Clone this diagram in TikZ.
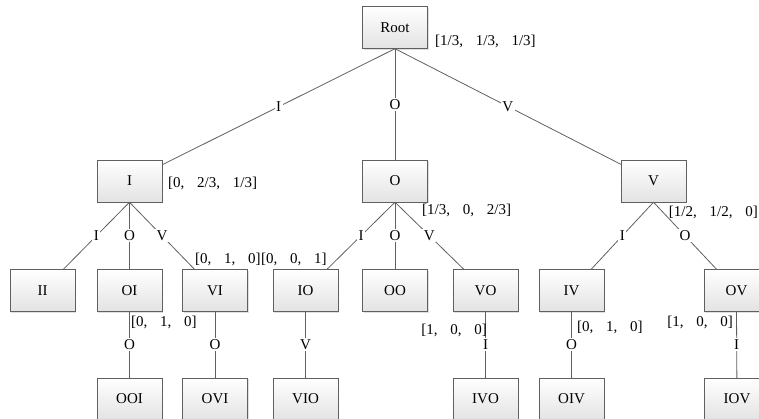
\documentclass[tikz,border=0pt]{standalone}
\usepackage{fontspec}
\setmainfont{Liberation Serif}
\usetikzlibrary{shadows}
\newcommand\fwc{,\hspace{0.85em}}
\begin{document}
\begin{tikzpicture}[x=1pt,y=-1pt,
  box/.style={draw=gray!75!black, top color=white, bottom color=gray!22, minimum width=65pt, minimum height=42pt, inner sep=0pt, font=\fontsize{15}{17}\selectfont, drop shadow={opacity=0.25, shadow xshift=1.2pt, shadow yshift=-1.2pt}},
  edge/.style={draw=gray!75!black, line width=0.8pt},
  elab/.style={fill=white, inner sep=1.5pt, font=\fontsize{15}{17}\selectfont},
  vlab/.style={inner sep=0pt, font=\fontsize{15}{17}\selectfont},
]
\useasboundingbox (0,0) rectangle (759,418);
% level 0
\node[box] (root) at (395,27.5) {Root};
% level 1
\node[box] (I) at (129.5,181) {I};
\node[box] (O) at (395,181) {O};
\node[box] (V) at (653.5,181) {V};
% level 2
\node[box] (II) at (42.5,290.5) {II};
\node[box] (OI) at (129.5,290.5) {OI};
\node[box] (VI) at (215,290.5) {VI};
\node[box] (IO) at (305.5,290.5) {IO};
\node[box] (OO) at (395,290.5) {OO};
\node[box] (VO) at (485.5,290.5) {VO};
\node[box] (IV) at (571.5,290.5) {IV};
\node[box] (OV) at (736.5,290.5) {OV};
% level 3
\node[box] (OOI) at (129.5,399) {OOI};
\node[box] (OVI) at (215,399) {OVI};
\node[box] (VIO) at (305.5,399) {VIO};
\node[box] (IVO) at (485.5,399) {IVO};
\node[box] (OIV) at (571.5,399) {OIV};
\node[box] (IOV) at (737,399) {IOV};
% edges
\draw[edge] (root.south) -- (I) node[elab,pos=0.5] {I};
\draw[edge] (root.south) -- (O) node[elab,pos=0.5] {O};
\draw[edge] (root.south) -- (V) node[elab,pos=0.5] {V};
\draw[edge] (I.south) -- (II) node[elab,pos=0.5] {I};
\draw[edge] (I.south) -- (OI) node[elab,pos=0.5] {O};
\draw[edge] (I.south) -- (VI) node[elab,pos=0.5] {V};
\draw[edge] (O.south) -- (IO) node[elab,pos=0.5] {I};
\draw[edge] (O.south) -- (OO) node[elab,pos=0.5] {O};
\draw[edge] (O.south) -- (VO) node[elab,pos=0.5] {V};
\draw[edge] (V.south) -- (IV) node[elab,pos=0.5] {I};
\draw[edge] (V.south) -- (OV) node[elab,pos=0.5] {O};
\draw[edge] (OI.south) -- (OOI) node[elab,pos=0.5] {O};
\draw[edge] (VI.south) -- (OVI) node[elab,pos=0.5] {O};
\draw[edge] (IO.south) -- (VIO) node[elab,pos=0.5] {V};
\draw[edge] (VO.south) -- (IVO) node[elab,pos=0.5] {I};
\draw[edge] (IV.south) -- (OIV) node[elab,pos=0.5] {O};
\draw[edge] (OV.south) -- (IOV) node[elab,pos=0.5] {I};
% probability labels
\node[vlab,anchor=west] (pRoot) at (435,41) {[1/3\fwc 1/3\fwc 1/3]};
\node[vlab,anchor=west] (pI) at (168,183) {[0\fwc 2/3\fwc 1/3]};
\node[vlab,anchor=west] (pO) at (422,210) {[1/3\fwc 0\fwc 2/3]};
\node[vlab,anchor=east] (pV) at (758,212) {[1/2\fwc 1/2\fwc 0]};
\node[vlab,anchor=west] (pVI) at (195,259) {[0\fwc 1\fwc 0]};
\node[vlab,anchor=west] (pIO) at (261,259) {[0\fwc 0\fwc 1]};
\node[vlab,anchor=west] (pOI) at (131,322) {[0\fwc 1\fwc 0]};
\node[vlab,anchor=east] (pVO) at (487,330) {[1\fwc 0\fwc 0]};
\node[vlab,anchor=west] (pIV) at (577,327) {[0\fwc 1\fwc 0]};
\node[vlab,anchor=east] (pOV) at (733,322) {[1\fwc 0\fwc 0]};
\end{tikzpicture}
\end{document}
